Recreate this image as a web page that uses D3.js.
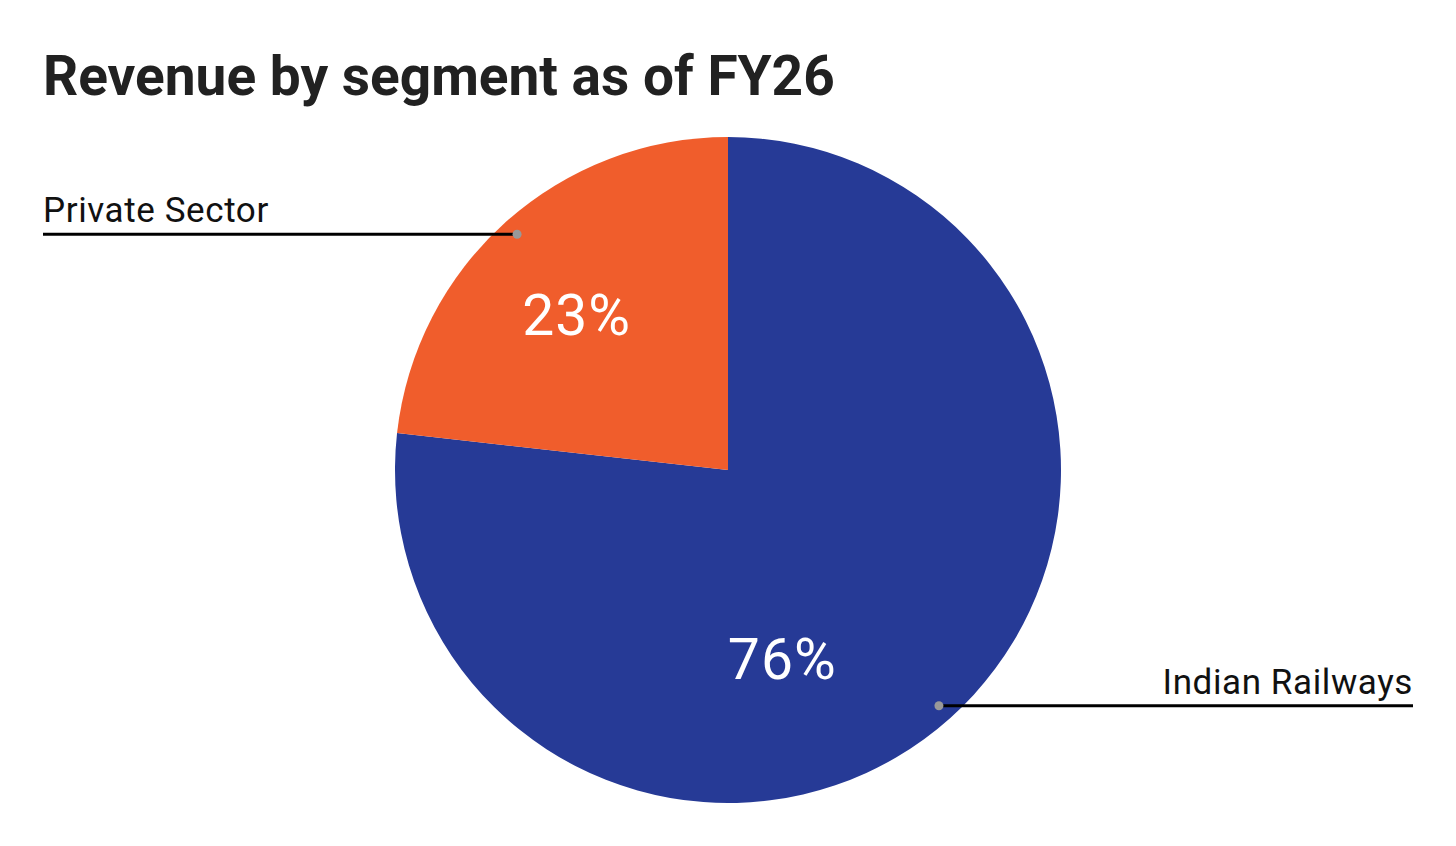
<!DOCTYPE html>
<html lang="en">
  <head>
    <meta charset="UTF-8" />
    <title>Revenue by segment</title>
    <script src="https://d3js.org/d3.v7.min.js"></script>
    <style>
      body {
        margin: 0;
        background: #ffffff;
        font-family: Roboto, "Noto Sans", sans-serif;
      }
      .title {
        font-weight: 700;
        font-size: 55px;
        fill: #212121;
      }
      .legendLabel {
        font-size: 35px;
        letter-spacing: 0.6px;
        fill: #111111;
      }
      .pct {
        font-size: 57px;
        letter-spacing: 1px;
        fill: #ffffff;
      }
    </style>
  </head>
  <body>
    <div id="container"></div>
    <script>
      // chart data
      const segments = ["Indian Railways", "Private Sector"];
      const shares = [76, 23];
      const shareLabels = ["76%", "23%"];
      const colors = ["#263A96", "#F05D2C"];

      const width = 1456;
      const height = 846;
      const cx = 728;
      const cy = 470;
      const radius = 333;

      const svg = d3
        .select("#container")
        .append("svg")
        .attr("width", width)
        .attr("height", height);

      svg
        .append("text")
        .attr("class", "title")
        .attr("x", 43)
        .attr("y", 95)
        .text("Revenue by segment as of FY26");

      const data = segments.map(function (s, i) {
        return { name: s, value: shares[i], label: shareLabels[i], color: colors[i] };
      });

      const pie = d3
        .pie()
        .sort(null)
        .value(function (d) {
          return d.value;
        });
      const arcs = pie(data);

      const arc = d3.arc().innerRadius(0).outerRadius(radius);

      const g = svg.append("g").attr("transform", `translate(${cx},${cy})`);

      g.selectAll("path")
        .data(arcs)
        .enter()
        .append("path")
        .attr("d", arc)
        .attr("fill", function (d) {
          return d.data.color;
        });

      // percentage labels (big slice label sits nearer the bottom, like the source)
      g.selectAll("text.pct")
        .data(arcs)
        .enter()
        .append("text")
        .attr("class", "pct")
        .attr("text-anchor", "middle")
        .attr("transform", function (d) {
          const mid = (d.startAngle + d.endAngle) / 2;
          const big = d.endAngle - d.startAngle > Math.PI;
          const ang = big ? mid + 0.45 : mid - 0.045;
          const r = big ? radius * 0.59 : radius * 0.65;
          const p = d3.pointRadial(ang, r);
          return `translate(${p[0]},${p[1] + 20})`;
        })
        .text(function (d) {
          return d.data.label;
        });

      // leader lines with labels
      const leaders = svg.append("g");
      arcs.forEach(function (d) {
        const mid = (d.startAngle + d.endAngle) / 2;
        const p = d3.pointRadial(mid, radius * 0.95);
        const px = cx + p[0];
        const py = cy + p[1];
        const right = p[0] > 0;
        const endX = right ? 1413 : 43;

        leaders
          .append("line")
          .attr("x1", px)
          .attr("y1", py)
          .attr("x2", endX)
          .attr("y2", py)
          .attr("stroke", "#000")
          .attr("stroke-width", 3);

        leaders
          .append("circle")
          .attr("cx", px)
          .attr("cy", py)
          .attr("r", 4.5)
          .attr("fill", "#999999");

        leaders
          .append("text")
          .attr("class", "legendLabel")
          .attr("x", endX)
          .attr("y", py - 12)
          .attr("text-anchor", right ? "end" : "start")
          .text(d.data.name);
      });
    </script>
  </body>
</html>
